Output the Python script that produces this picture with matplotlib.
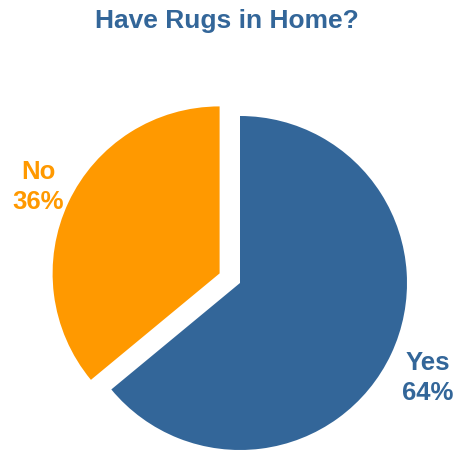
import numpy as np
import matplotlib.pyplot as plt

plt.rcParams['font.family'] = ['Liberation Sans', 'DejaVu Sans']

labels = ['Yes', 'No']
shares = [64, 36]
colors = ['#336699', '#FF9900']

W = H = 454
fig = plt.figure(figsize=(W / 100, H / 100), dpi=100)
ax = fig.add_axes([0, 0, 1, 1])

cx, cy, r = 240, H - 283, 167
# pie offsets are in data units here, so scale by the radius
explode = [0, 0.135 * r]
ax.pie(shares, colors=colors, explode=explode, startangle=90, counterclock=False,
       center=(cx, cy), radius=r, frame=True, wedgeprops=dict(linewidth=0))
ax.set_xlim(0, W)
ax.set_ylim(0, H)
ax.set_aspect('equal')
ax.axis('off')

# labels outside the wedges
ax.text(428, H - 378, f'{labels[0]}\n{shares[0]}%', color=colors[0], fontsize=18.5,
        fontweight='bold', ha='center', va='center', linespacing=1.32)
ax.text(38, H - 187, f'{labels[1]}\n{shares[1]}%', color=colors[1], fontsize=18.5,
        fontweight='bold', ha='center', va='center', linespacing=1.32)

fig.text(0.5, 1 - 21 / H, 'Have Rugs in Home?', color='#336699', fontsize=19,
         fontweight='bold', ha='center', va='center')

fig.savefig('out.png', dpi=100)
